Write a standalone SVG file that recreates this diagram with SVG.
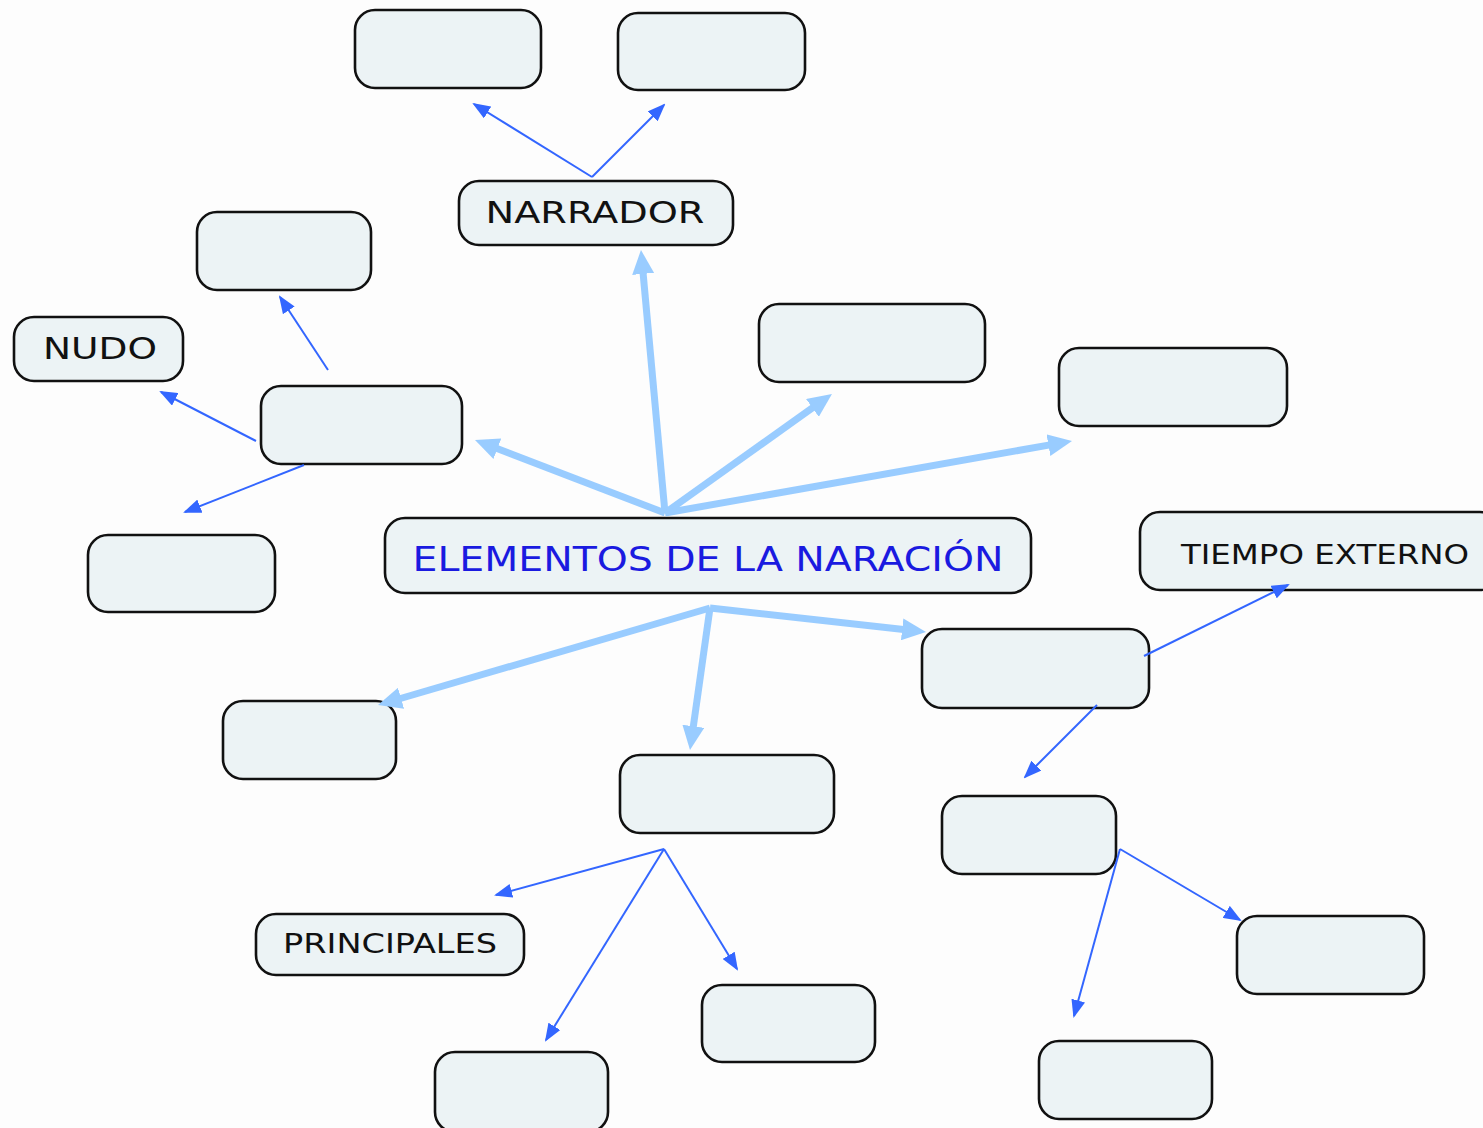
<svg xmlns="http://www.w3.org/2000/svg" width="1483" height="1128" viewBox="0 0 1483 1128">
<style>
.box{fill:#ecf3f5;stroke:#111;stroke-width:2.6}
.thick{stroke:#99ccff;stroke-width:7;fill:none}
.thin{stroke:#3366ff;stroke-width:2;fill:none}
.lbl{font-family:"DejaVu Sans",Verdana,sans-serif;fill:#111}
.title{font-family:"DejaVu Sans",sans-serif;fill:#1a1ae0;font-size:34px}
</style>
<defs>
<marker id="ah" markerUnits="userSpaceOnUse" markerWidth="24" markerHeight="22" refX="6" refY="11" orient="auto"><path d="M0,0 L24,11 L0,22 z" fill="#99ccff"/></marker>
<marker id="at" markerUnits="userSpaceOnUse" markerWidth="18" markerHeight="14" refX="16" refY="7" orient="auto"><path d="M0,0 L18,7 L0,14 z" fill="#3366ff"/></marker>
</defs>
<rect width="1483" height="1128" fill="#fdfdfd"/>
<g id="n1"><rect class="box" x="355" y="10" width="186" height="78" rx="20"/></g>
<g id="n2"><rect class="box" x="618" y="13" width="187" height="77" rx="20"/></g>
<g id="narrador"><rect class="box" x="459" y="181" width="274" height="64" rx="20"/><text class="lbl" x="595" y="223" font-size="30" text-anchor="middle" textLength="219" lengthAdjust="spacingAndGlyphs">NARRADOR</text></g>
<g id="n4"><rect class="box" x="197" y="212" width="174" height="78" rx="20"/></g>
<g id="nudo"><rect class="box" x="14" y="317" width="169" height="64" rx="20"/><text class="lbl" x="100" y="359" font-size="30" text-anchor="middle" textLength="114" lengthAdjust="spacingAndGlyphs">NUDO</text></g>
<g id="n6"><rect class="box" x="261" y="386" width="201" height="78" rx="20"/></g>
<g id="n7"><rect class="box" x="759" y="304" width="226" height="78" rx="20"/></g>
<g id="n8"><rect class="box" x="1059" y="348" width="228" height="78" rx="20"/></g>
<g id="n9"><rect class="box" x="88" y="535" width="187" height="77" rx="20"/></g>
<g id="title"><rect class="box" x="385" y="518" width="646" height="75" rx="20"/><text class="title" x="708" y="571" text-anchor="middle" textLength="591" lengthAdjust="spacingAndGlyphs">ELEMENTOS DE LA NARACIÓN</text></g>
<g id="tiempo"><rect class="box" x="1140" y="512" width="360" height="78" rx="20"/><text class="lbl" x="1325" y="564" font-size="26" text-anchor="middle" textLength="288" lengthAdjust="spacingAndGlyphs">TIEMPO EXTERNO</text></g>
<g id="n12"><rect class="box" x="922" y="629" width="227" height="79" rx="20"/></g>
<g id="n13"><rect class="box" x="223" y="701" width="173" height="78" rx="20"/></g>
<g id="n14"><rect class="box" x="620" y="755" width="214" height="78" rx="20"/></g>
<g id="n15"><rect class="box" x="942" y="796" width="174" height="78" rx="20"/></g>
<g id="principales"><rect class="box" x="256" y="914" width="268" height="61" rx="20"/><text class="lbl" x="390" y="953" font-size="26" text-anchor="middle" textLength="214" lengthAdjust="spacingAndGlyphs">PRINCIPALES</text></g>
<g id="n17"><rect class="box" x="702" y="985" width="173" height="77" rx="20"/></g>
<g id="n18"><rect class="box" x="1237" y="916" width="187" height="78" rx="20"/></g>
<g id="n19"><rect class="box" x="435" y="1052" width="173" height="80" rx="20"/></g>
<g id="n20"><rect class="box" x="1039" y="1041" width="173" height="78" rx="20"/></g>
<g id="connectors">
<line class="thick" x1="665" y1="513" x2="642.6" y2="267.9" marker-end="url(#ah)"/>
<line class="thick" x1="665" y1="513" x2="491.8" y2="446.5" marker-end="url(#ah)"/>
<line class="thick" x1="665" y1="513" x2="817.3" y2="404.4" marker-end="url(#ah)"/>
<line class="thick" x1="665" y1="513" x2="1054.3" y2="444.1" marker-end="url(#ah)"/>
<line class="thick" x1="710" y1="608" x2="395.3" y2="700" marker-end="url(#ah)"/>
<line class="thick" x1="710" y1="608" x2="692.5" y2="732.2" marker-end="url(#ah)"/>
<line class="thick" x1="710" y1="608" x2="908.1" y2="630" marker-end="url(#ah)"/>
<line class="thin" x1="592" y1="177" x2="474" y2="104" marker-end="url(#at)"/>
<line class="thin" x1="592" y1="177" x2="664" y2="105" marker-end="url(#at)"/>
<line class="thin" x1="328" y1="370" x2="280" y2="297" marker-end="url(#at)"/>
<line class="thin" x1="256" y1="441" x2="161" y2="392" marker-end="url(#at)"/>
<line class="thin" x1="304" y1="465" x2="185" y2="512" marker-end="url(#at)"/>
<line class="thin" x1="664" y1="849" x2="496" y2="895" marker-end="url(#at)"/>
<line class="thin" x1="664" y1="849" x2="546" y2="1040" marker-end="url(#at)"/>
<line class="thin" x1="664" y1="849" x2="737" y2="969" marker-end="url(#at)"/>
<line class="thin" x1="1144" y1="656" x2="1288" y2="585" marker-end="url(#at)"/>
<line class="thin" x1="1097" y1="705" x2="1025" y2="777" marker-end="url(#at)"/>
<line class="thin" x1="1120" y1="849" x2="1240" y2="920" marker-end="url(#at)"/>
<line class="thin" x1="1120" y1="849" x2="1074" y2="1016" marker-end="url(#at)"/>
</g>
</svg>
